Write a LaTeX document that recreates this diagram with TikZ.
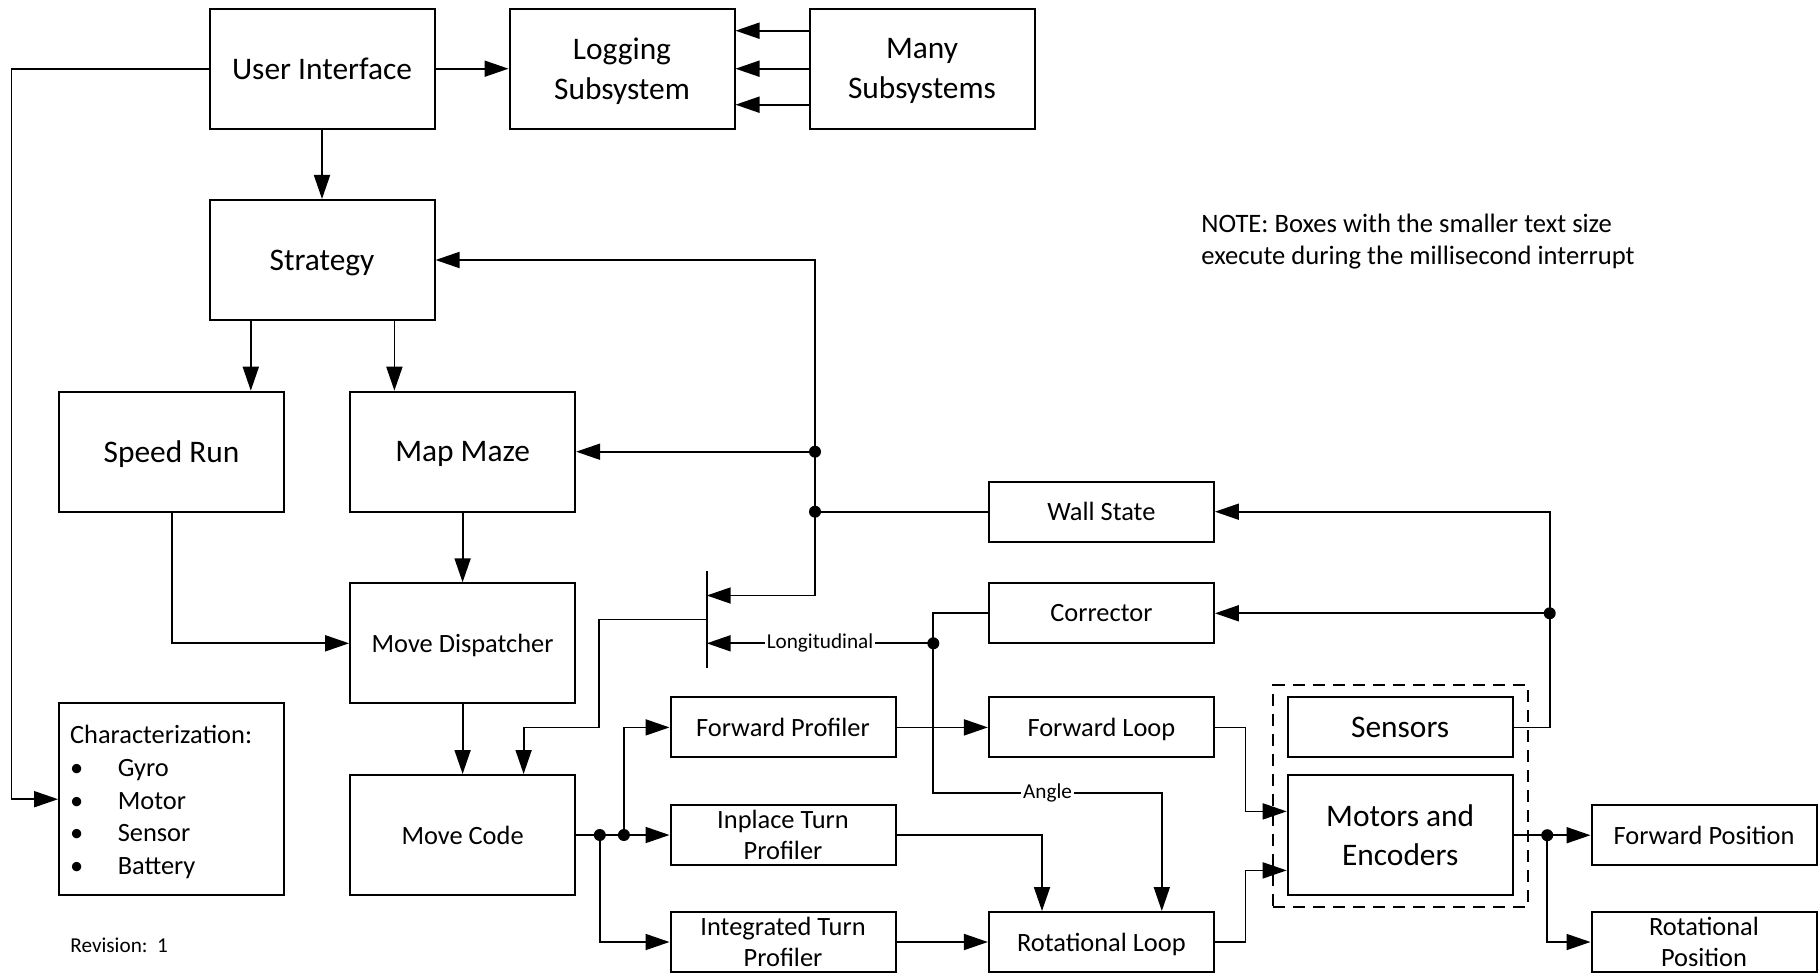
\documentclass[tikz,border=0pt]{standalone}
\usepackage{fontspec}
\setmainfont{Carlito}
\usetikzlibrary{arrows.meta}
\usetikzlibrary{calc}

\begin{document}
\begin{tikzpicture}[x=0.5pt,y=-0.5pt,line join=miter,
  blk/.style={draw, line width=1pt, minimum width=112.5pt, minimum height=60pt,
    inner sep=0pt, text depth=0pt, align=center, font=\fontsize{15.7}{19.8}\selectfont},
  blks/.style={blk, font=\fontsize{13.2}{15.8}\selectfont},
  sbox/.style={blks, minimum height=30pt},
  link/.style={line width=0.9pt},
  arr/.style={link, -{Triangle[length=12pt,width=8pt]}},
  lbl/.style={fill=white, inner sep=1pt, font=\fontsize{10.6}{12}\selectfont}]
\useasboundingbox (0,0) rectangle (1818,973);

% top row
\node[blk] (ui) at (322,68.7) {User Interface};
\node[blk] (log) at (622,68.7) {Logging\\Subsystem};
\node[blk] (many) at (922,68.7) {Many\\Subsystems};
\node[blk] (strat) at (322,260) {Strategy};
\node[blk] (speed) at (171.6,451.7) {Speed Run};
\node[blk] (map) at (462.6,451.7) {Map Maze};
\node[blks] (disp) at (462.6,643.3) {Move Dispatcher};
\node[blks] (code) at (462.6,835) {Move Code};
\node[blks, align=left, text width=101.5pt, inner xsep=5.5pt, minimum height=95.8pt, text depth={},
  font=\fontsize{13.2}{16.3}\selectfont] (char) at (171.6,799.2)
  {\rule{0pt}{12pt}Characterization:\\
   \makebox[23.85pt][l]{\textbullet}Gyro\\
   \makebox[23.85pt][l]{\textbullet}Motor\\
   \makebox[23.85pt][l]{\textbullet}Sensor\\
   \makebox[23.85pt][l]{\textbullet}Battery};

% millisecond boxes
\node[sbox] (wall) at (1101.4,511.7) {Wall State};
\node[sbox] (corr) at (1101.4,613.3) {Corrector};
\node[sbox] (fprof) at (783,727.4) {Forward Profiler};
\node[sbox] (iprof) at (783,835) {Inplace Turn\\Profiler};
\node[sbox] (tprof) at (783,942) {Integrated Turn\\Profiler};
\node[sbox] (floop) at (1101.4,727.4) {Forward Loop};
\node[sbox] (rloop) at (1101.4,942) {Rotational Loop};
\node[blk, minimum height=30pt] (sens) at (1400.2,727.4) {Sensors};
\node[blk] (motor) at (1400.2,835.2) {Motors and\\Encoders};
\node[sbox] (fpos) at (1704,835.2) {Forward Position};
\node[sbox] (rpos) at (1704,942) {Rotational\\Position};
\node[draw, line width=1pt, dash pattern=on 6pt off 4pt, minimum width=127.5pt, minimum height=110.9pt] (hw) at (1400.5,796.2) {};

% selector bar
\node[inner sep=0pt, minimum width=0pt, minimum height=48pt] (sel) at (706.7,619.5) {};
\draw[link] (sel.north) -- (sel.south);

% texts
\node[align=left, anchor=west, inner sep=0pt, font=\fontsize{13.3}{16.2}\selectfont] (note) at (1201,241.5)
  {NOTE: Boxes with the smaller text size\\execute during the millisecond interrupt};
\node[anchor=west, inner sep=0pt, font=\fontsize{10.6}{12}\selectfont] (rev) at (70,945) {Revision:\ \ 1};

% connectors
\draw[arr] (ui.east) -- (log.west);
\draw[arr] ([yshift=19pt]many.west) -- ([yshift=19pt]log.east);
\draw[arr] (many.west) -- (log.east);
\draw[arr] ([yshift=-18pt]many.west) -- ([yshift=-18pt]log.east);
\draw[arr] (ui.south) -- (strat.north);
\coordinate (rail) at (11.4,0);
\draw[arr] (ui.west) -- (ui.west -| rail) |- (char.west);
\draw[arr] ([xshift=-35.6pt]strat.south) -- ([xshift=-35.6pt]strat.south |- speed.north);
\draw[arr] ([xshift=36.2pt]strat.south) -- ([xshift=36.2pt]strat.south |- map.north);
\draw[arr] (map.south) -- (disp.north);
\draw[arr] (speed.south) |- (disp.west);
\draw[arr] (disp.south) -- (code.north);

% feedback from wall state
\coordinate (spine) at (815,0);
\draw[arr] (wall.west) -- (wall.west -| spine) |- (strat.east);
\draw[arr] (map.east -| spine) -- (map.east);
\draw[arr] (wall.west -| spine) |- ([yshift=12pt]sel.center);
\fill (map.east -| spine) circle (3pt);
\fill (wall.west -| spine) circle (3pt);
\draw[arr] (sel.center) -- ++(-107.7,0) -- ++(0,108) -| ([xshift=30.5pt]code.north);

% corrector
\coordinate (dotL) at ($(corr.west)+(-54.6,30)$);
\draw[arr] (corr.west) -| (dotL) -- ++(0,149.5) -| node[lbl, pos=0.25]{Angle} ([xshift=30.2pt]rloop.north);
\draw[arr] (dotL) -- node[lbl]{Longitudinal} (dotL -| sel.center);
\fill (dotL) circle (3pt);

% move code outputs
\path (code.east) ++(23.7,0) coordinate (d1) ++(24.1,0) coordinate (d2);
\draw[arr] (code.east) -- (iprof.west);
\draw[arr] (d2) |- (fprof.west);
\draw[arr] (d1) |- (tprof.west);
\fill (d1) circle (3pt);
\fill (d2) circle (3pt);

\draw[arr] (fprof.east) -- (floop.west);
\draw[arr] (iprof.east) -| ([xshift=-29.7pt]rloop.north);
\draw[arr] (tprof.east) -- (rloop.west);
\draw[arr] (floop.east) -- ++(30.5,0) |- ([yshift=11.9pt]motor.west);
\draw[arr] (rloop.east) -- ++(30.5,0) |- ([yshift=-17.6pt]motor.west);

% sensors
\path (sens.east) ++(36,0) coordinate (sp);
\draw[arr] (sens.east) -- (sp) |- (wall.east);
\draw[arr] (corr.east -| sp) -- (corr.east);
\fill (corr.east -| sp) circle (3pt);

% outputs
\path (motor.east) ++(33.5,0) coordinate (mo);
\draw[arr] (motor.east) -- (fpos.west);
\draw[arr] (mo) |- (rpos.west);
\fill (mo) circle (3pt);
\end{tikzpicture}
\end{document}
